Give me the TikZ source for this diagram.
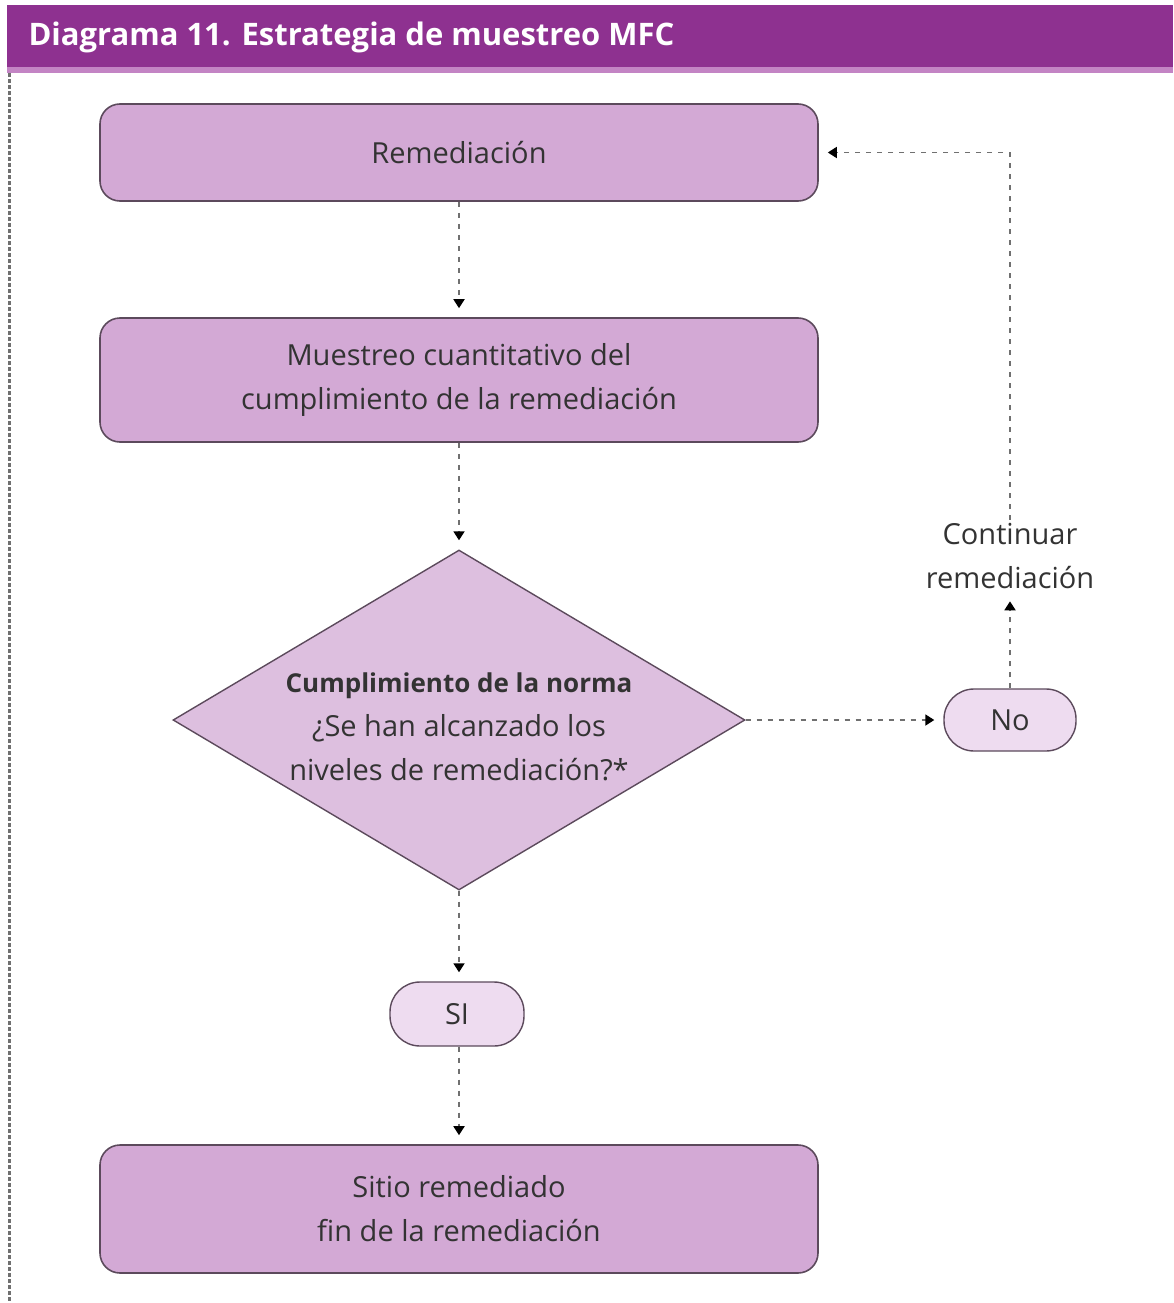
\documentclass[tikz,border=0pt]{standalone}
\usepackage{fontspec}
\setmainfont{Open Sans}
\usetikzlibrary{shapes.geometric,arrows.meta}
\definecolor{hdrpurple}{HTML}{8E3190}
\definecolor{hdrstrip}{HTML}{C384C4}
\definecolor{boxfill}{HTML}{D3A9D5}
\definecolor{diafill}{HTML}{DDBFDF}
\definecolor{pillfill}{HTML}{EEDCF0}
\definecolor{edge}{HTML}{5C4A5C}
\definecolor{txt}{HTML}{333333}
\definecolor{flow}{HTML}{707070}
\begin{document}
\begin{tikzpicture}[x=1pt,y=-1pt,
  bodytext/.style={font=\fontsize{29}{44}\selectfont, text=txt, align=center},
  procbox/.style={draw=edge, line width=1.6pt, fill=boxfill, rounded corners=20pt,
    minimum width=718pt, inner sep=0pt, bodytext},
  pill/.style={draw=edge, line width=1.4pt, fill=pillfill, rounded corners=30pt,
    minimum height=62pt, inner sep=0pt, bodytext},
  flowline/.style={draw=flow, line width=1.8pt, dash pattern=on 5pt off 6pt},
  flowarrow/.style={flowline, -{Triangle[length=9pt,width=11pt,black]}, shorten >=9pt}
]
\useasboundingbox (0,0) rectangle (1173,1303);

% title bar
\fill[hdrpurple] (7,5) rectangle (1173,67);
\fill[hdrstrip] (7,67) rectangle (1173,73);
\node[anchor=west, text=white, font=\fontsize{31}{38}\selectfont\bfseries] (title) at (25,37)
  {Diagrama 11. Estrategia de muestreo MFC};

% left frame edge
\draw[flow, line width=3pt, dash pattern=on 4pt off 2pt] (9,73) -- (9,1303);

% process boxes
\node[procbox, minimum height=97pt] (rem) at (459,152.5) {Remediación};
\node[procbox, minimum height=124pt] (mue) at (459,380)
  {Muestreo cuantitativo del\\cumplimiento de la remediación};
\node[procbox, minimum height=128pt] (fin) at (459,1209)
  {Sitio remediado\\fin de la remediación};

% decision
\node[draw=edge, line width=1.4pt, fill=diafill, shape=diamond, inner sep=0pt,
  minimum width=572pt, minimum height=340pt] (dec) at (459,720) {};
\node[bodytext] (dectext) at (459,727)
  {{\fontsize{26}{44}\selectfont\bfseries Cumplimiento de la norma}\\¿Se han alcanzado los\\niveles de remediación?*};

% answers
\node[pill, minimum width=132pt] (no) at (1010,720) {No};
\node[pill, minimum width=134pt, minimum height=64pt] (si) at (457,1014) {SI};
\node[bodytext] (cont) at (1010,556) {Continuar\\remediación};
\coordinate (corner) at (cont.north |- rem.east);

% connectors
\draw[flowarrow] (rem.south) -- (mue.north);
\draw[flowarrow] (mue.south) -- (dec.north);
\draw[flowarrow] (dec.east) -- (no.west);
\draw[flowarrow] (no.north) -- (cont.south);
\draw[flowarrow] (cont.north) -- (corner) -- (rem.east);
\draw[flowarrow] (dec.south) -- (dec.south |- si.north);
\draw[flowarrow] (si.south -| fin.north) -- (fin.north);
\end{tikzpicture}
\end{document}
